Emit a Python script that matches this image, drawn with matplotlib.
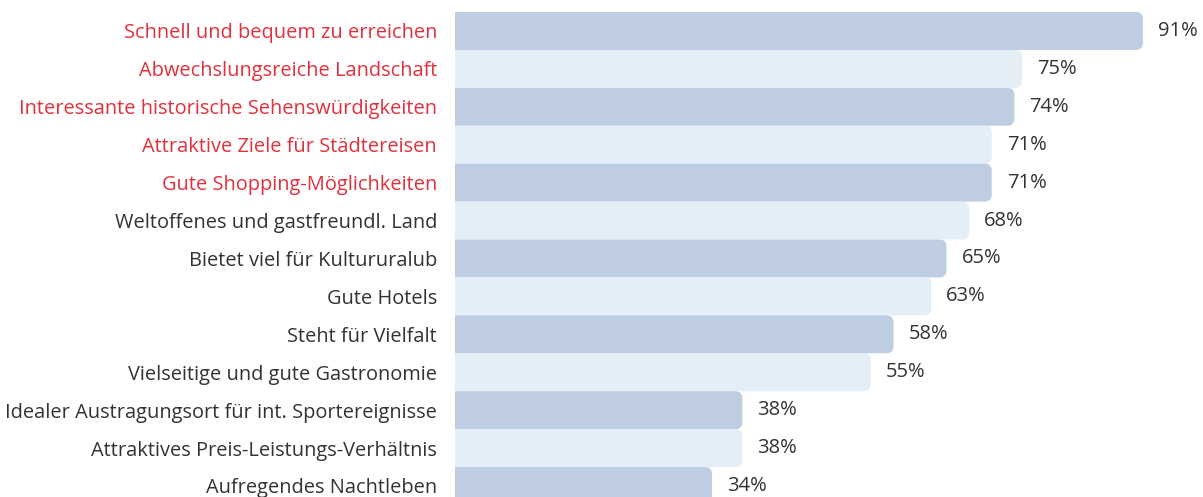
import matplotlib.pyplot as plt
from matplotlib.patches import FancyBboxPatch

labels = [
    "Schnell und bequem zu erreichen",
    "Abwechslungsreiche Landschaft",
    "Interessante historische Sehenswürdigkeiten",
    "Attraktive Ziele für Städtereisen",
    "Gute Shopping-Möglichkeiten",
    "Weltoffenes und gastfreundl. Land",
    "Bietet viel für Kultururalub",
    "Gute Hotels",
    "Steht für Vielfalt",
    "Vielseitige und gute Gastronomie",
    "Idealer Austragungsort für int. Sportereignisse",
    "Attraktives Preis-Leistungs-Verhältnis",
    "Aufregendes Nachtleben",
]
values = [91, 75, 74, 71, 71, 68, 65, 63, 58, 55, 38, 38, 34]
n_red = 5

dark_bar = "#bfcde3"
light_bar = "#e3eef6"
red = "#e2303c"
gray = "#333333"

plt.rcParams['font.family'] = ['Open Sans', 'DejaVu Sans']

W, H = 1203, 497
fig = plt.figure(figsize=(W / 100, H / 100), dpi=100)
left_px = 455
ax = fig.add_axes([left_px / W, 0, 1 - left_px / W, 1])

px_x = 7.56    # pixels per percent
px_y = 37.92   # pixels per bar
ax.set_xlim(0, (W - left_px) / px_x)
ax.set_ylim(12 + 11 / px_y, -0.5 - 12 / px_y)

radius = 7 / px_x
aspect = px_x / px_y
for i, v in enumerate(values):
    color = dark_bar if i % 2 == 0 else light_bar
    box = FancyBboxPatch((-5, i - 0.5), v + 5, 1.0,
                         boxstyle=f"round,pad=0,rounding_size={radius}",
                         mutation_aspect=aspect, fc=color, ec="none")
    ax.add_patch(box)
    ax.text(v + 15 / px_x, i, f"{v}%", va="center", ha="left",
            fontsize=14.5, color=gray)

ax.set_yticks(range(len(labels)))
ax.set_yticklabels(labels, fontsize=14.4)
for i, t in enumerate(ax.get_yticklabels()):
    t.set_color(red if i < n_red else gray)
ax.tick_params(axis="y", length=0, pad=13)
ax.set_xticks([])
for s in ax.spines.values():
    s.set_visible(False)

fig.savefig("out.png", dpi=100)
